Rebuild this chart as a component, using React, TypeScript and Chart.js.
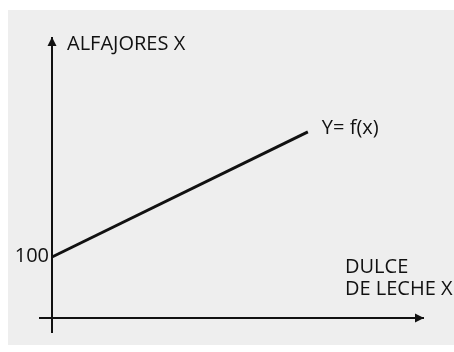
import React, { useEffect, useRef } from "react";
import { Chart, registerables } from "chart.js";

Chart.register(...registerables);

// ---- data ----
const xValues = [0, 10];
const yValues = [100, 305];
const yTickValues = [100];
const yAxisTitle = "ALFAJORES X";
const xAxisTitleLines = ["DULCE", "DE LECHE X"];
const curveLabel = "Y= f(x)";

const FONT = "'Open Sans', Lato, sans-serif";
const FONT_SIZE = 20;
const INK = "#111111";

const decorPlugin = {
  id: "decor",
  beforeDraw(chart: any) {
    const { ctx } = chart;
    ctx.save();
    ctx.fillStyle = "#eeeeee";
    ctx.fillRect(8, 10, 460, 335);
    ctx.restore();
  },
  afterDraw(chart: any) {
    const { ctx, chartArea, scales } = chart;
    const ax = scales.x.getPixelForValue(0);
    const ay = scales.y.getPixelForValue(0);
    ctx.save();
    ctx.fillStyle = INK;
    // y-axis arrow
    ctx.beginPath();
    ctx.moveTo(ax, chartArea.top - 1);
    ctx.lineTo(ax - 4.5, chartArea.top + 8);
    ctx.lineTo(ax + 4.5, chartArea.top + 8);
    ctx.closePath();
    ctx.fill();
    // x-axis arrow
    ctx.beginPath();
    ctx.moveTo(chartArea.right + 1, ay);
    ctx.lineTo(chartArea.right - 8, ay - 4.5);
    ctx.lineTo(chartArea.right - 8, ay + 4.5);
    ctx.closePath();
    ctx.fill();

    ctx.font = `${FONT_SIZE}px ${FONT}`;
    ctx.textBaseline = "middle";

    // y tick labels
    ctx.textAlign = "right";
    yTickValues.forEach((v) => {
      ctx.fillText(String(v), ax - 3, scales.y.getPixelForValue(v) - 1);
    });

    ctx.textAlign = "left";
    ctx.fillText(yAxisTitle, ax + 15, chartArea.top + 6);

    const meta = chart.getDatasetMeta(0);
    const last = meta.data[meta.data.length - 1];
    ctx.fillText(curveLabel, last.x + 14, last.y - 4);

    xAxisTitleLines.forEach((t, i) => {
      ctx.fillText(t, chartArea.right - 78, ay - 51 + i * 22);
    });
    ctx.restore();
  },
};

export default function App() {
  const ref = useRef<HTMLCanvasElement | null>(null);
  useEffect(() => {
    if (!ref.current) return;
    const chart = new Chart(ref.current, {
      type: "line",
      data: {
        datasets: [
          {
            data: xValues.map((x, i) => ({ x, y: yValues[i] })),
            borderColor: INK,
            borderWidth: 3,
            pointRadius: 0,
            fill: false,
          },
        ],
      },
      options: {
        responsive: false,
        animation: false,
        events: [],
        layout: { padding: { left: 40, right: 31, top: 38, bottom: 20 } },
        plugins: { legend: { display: false }, tooltip: { enabled: false } },
        scales: {
          x: {
            type: "linear",
            min: -0.47,
            max: 14.5,
            position: { y: 0 },
            grid: { display: false },
            border: { display: true, color: INK, width: 2 },
            ticks: { display: false },
          },
          y: {
            type: "linear",
            min: -23,
            max: 459,
            position: { x: 0 },
            grid: { display: false },
            border: { display: true, color: INK, width: 2 },
            afterBuildTicks: (scale: any) => {
              scale.ticks = yTickValues.map((v) => ({ value: v }));
            },
            ticks: { display: false },
          },
        },
      },
      plugins: [decorPlugin],
    });
    return () => chart.destroy();
  }, []);
  return (
    <canvas
      ref={ref}
      width={454}
      height={352}
      style={{ display: "block", position: "fixed", left: 0, top: 0 }}
    />
  );
}
